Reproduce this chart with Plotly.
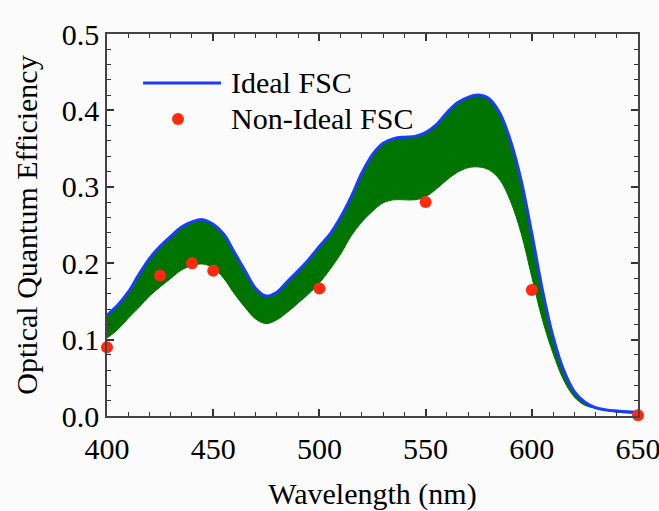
import plotly.graph_objects as go

wavelength = [400, 405, 410, 415, 420, 425, 430, 435, 440, 445, 450, 455, 460, 465, 470,
              475, 480, 485, 490, 495, 500, 505, 510, 515, 520, 525, 530, 535, 540, 545,
              550, 555, 560, 565, 570, 575, 580, 585, 590, 595, 600, 605, 610, 615, 620,
              625, 630, 635, 640, 645, 650]
ideal_upper = [0.132, 0.145, 0.162, 0.185, 0.206, 0.222, 0.235, 0.247, 0.254, 0.257, 0.251,
               0.238, 0.214, 0.190, 0.167, 0.157, 0.162, 0.176, 0.190, 0.205, 0.222, 0.238,
               0.260, 0.287, 0.318, 0.342, 0.357, 0.363, 0.365, 0.366, 0.371, 0.381, 0.397,
               0.410, 0.417, 0.420, 0.415, 0.396, 0.360, 0.308, 0.239, 0.165, 0.104, 0.060,
               0.032, 0.018, 0.011, 0.008, 0.0065, 0.0055, 0.005]
ideal_lower = [0.102, 0.113, 0.128, 0.142, 0.157, 0.169, 0.180, 0.191, 0.197, 0.199, 0.194,
               0.180, 0.160, 0.142, 0.127, 0.121, 0.126, 0.136, 0.148, 0.160, 0.174, 0.192,
               0.212, 0.236, 0.254, 0.268, 0.279, 0.283, 0.283, 0.283, 0.287, 0.297, 0.309,
               0.319, 0.325, 0.326, 0.322, 0.309, 0.281, 0.239, 0.182, 0.126, 0.082, 0.047,
               0.025, 0.014, 0.010, 0.007, 0.005, 0.004, 0.0035]
nonideal_wl = [400, 425, 440, 450, 500, 550, 600, 650]
nonideal_qe = [0.090, 0.184, 0.200, 0.190, 0.167, 0.280, 0.165, 0.001]
legend_labels = ["Ideal FSC", "Non-Ideal FSC"]

font_family = "Liberation Serif"
fs = 30
green = "#007400"
blue = "#1a3cff"
red = "#ff2a10"
axis_color = "#444444"

fig = go.Figure()
fig.add_trace(go.Scatter(x=wavelength, y=ideal_lower, mode="lines",
                         line=dict(color=green, width=1, shape="spline"),
                         showlegend=False, hoverinfo="skip"))
fig.add_trace(go.Scatter(x=wavelength, y=ideal_upper, mode="lines",
                         line=dict(color=green, width=0, shape="spline"),
                         fill="tonexty", fillcolor=green,
                         showlegend=False, hoverinfo="skip"))
fig.add_trace(go.Scatter(x=wavelength, y=ideal_upper, mode="lines", name=legend_labels[0],
                         line=dict(color=blue, width=3, shape="spline"), showlegend=False))
fig.add_trace(go.Scatter(x=nonideal_wl, y=nonideal_qe, mode="markers", name=legend_labels[1],
                         marker=dict(color=red, size=12), cliponaxis=False, showlegend=False))

axis_common = dict(
    showgrid=False, zeroline=False, showline=True, linecolor=axis_color, linewidth=1.5,
    mirror="allticks", ticks="inside", ticklen=7, tickwidth=1.5, tickcolor="#333333",
    tickfont=dict(family=font_family, size=fs, color="black"),
    ticklabeloverflow="allow", automargin=False,
)

fig.update_xaxes(range=[400, 650], tickmode="linear", tick0=400, dtick=50,
                 ticklabelstandoff=5,
                 title=dict(text="Wavelength (nm)", font=dict(family=font_family, size=fs, color="black"),
                            standoff=20),
                 minor=dict(ticks="inside", ticklen=4, dtick=10, tick0=400, tickcolor="#333333", tickwidth=1.2),
                 **axis_common)
fig.update_yaxes(range=[0, 0.5], tickmode="linear", tick0=0, dtick=0.1, tickformat=".1f",
                 title=dict(text="Optical Quantum Efficiency", font=dict(family=font_family, size=fs, color="black"),
                            standoff=15),
                 minor=dict(ticks="inside", ticklen=4, dtick=0.02, tick0=0, tickcolor="#333333", tickwidth=1.2),
                 **axis_common)

# manual legend (long line sample like the original)
fig.add_shape(type="line", xref="paper", yref="paper", x0=0.068, x1=0.2147, y0=0.872, y1=0.872,
              line=dict(color=blue, width=3))
fig.add_shape(type="circle", xref="paper", yref="paper",
              x0=0.1337 - 6 / 531, x1=0.1337 + 6 / 531, y0=0.7775 - 6 / 382, y1=0.7775 + 6 / 382,
              fillcolor=red, line=dict(width=0))
fig.add_annotation(xref="paper", yref="paper", x=0.2298, y=0.872, text=legend_labels[0],
                   showarrow=False, xanchor="left", yanchor="middle",
                   font=dict(family=font_family, size=fs, color="black"))
fig.add_annotation(xref="paper", yref="paper", x=0.2298, y=0.7775, text=legend_labels[1],
                   showarrow=False, xanchor="left", yanchor="middle",
                   font=dict(family=font_family, size=fs, color="black"))

fig.update_layout(
    width=659, height=511,
    margin=dict(l=107, r=21, t=34, b=95),
    paper_bgcolor="#fbfbfb", plot_bgcolor="#fbfbfb",
    font=dict(family=font_family, size=fs, color="black"),
    showlegend=False,
)

fig.write_html("out.html")
